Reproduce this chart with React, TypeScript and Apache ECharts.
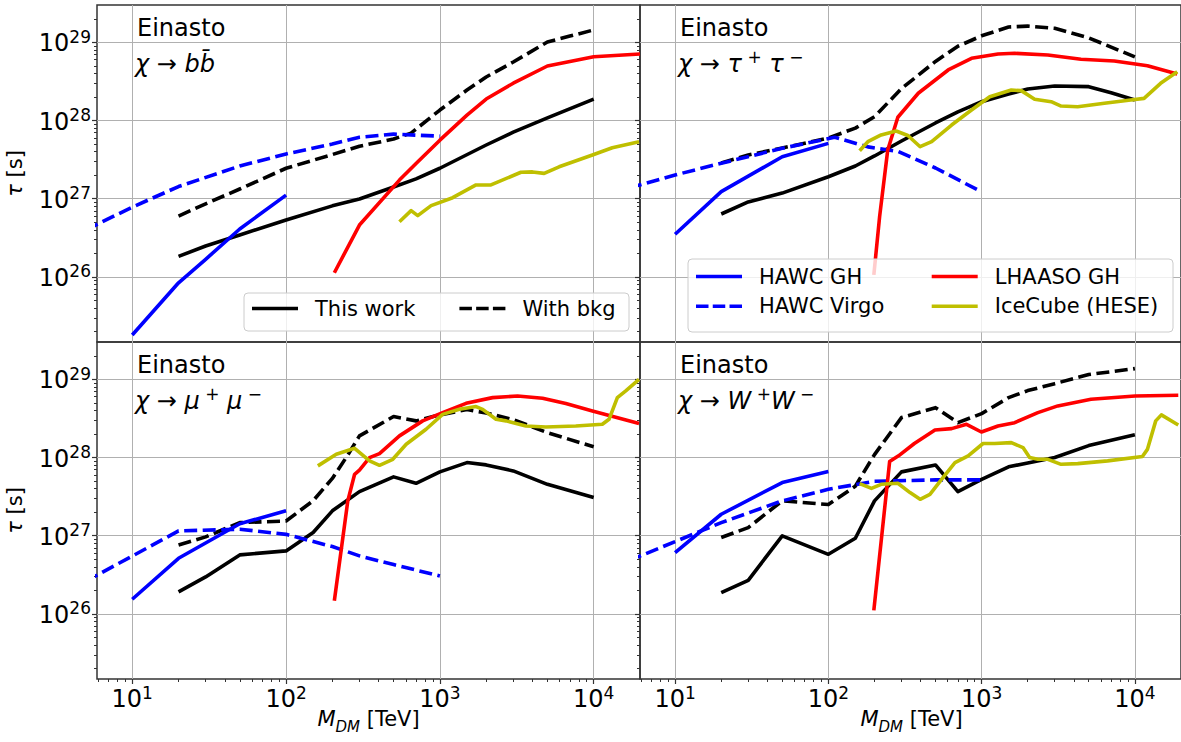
import React, { useEffect, useRef } from 'react';
import * as echarts from 'echarts';

const FONT = 'DejaVu Sans';

// Axis ranges and tick values
const X_MIN = 5.9;
const X_MAX = 20000;
const Y_MIN = 1.47e25;
const Y_MAX = 3.0e29;
const xMajor = [10, 100, 1000, 10000];
const yMajor = [1e26, 1e27, 1e28, 1e29];
const minorMult = [2, 3, 4, 5, 6, 7, 8, 9];
const xDecades = [1, 10, 100, 1000, 10000];
const yDecades = [1e25, 1e26, 1e27, 1e28, 1e29];

// Series names
const NAMES = ['This work', 'With bkg', 'HAWC GH', 'HAWC Virgo', 'LHAASO GH', 'IceCube (HESE)'];

// ---------- Panel 1: chi -> b bbar ----------
const bbThisWork = [[20, 1.83e26], [30, 2.48e26], [50, 3.44e26], [100, 5.35e26], [200, 8.1e26], [300, 9.9e26], [500, 1.41e27], [700, 1.79e27], [1000, 2.45e27], [2000, 4.86e27], [3000, 7.1e27], [5000, 1.08e28], [10000, 1.88e28]];
const bbWithBkg = [[20, 6.0e26], [30, 8.6e26], [50, 1.33e27], [100, 2.45e27], [200, 3.67e27], [300, 4.68e27], [500, 5.8e27], [650, 6.9e27], [1000, 1.36e28], [1500, 2.45e28], [2000, 3.6e28], [3000, 5.6e28], [5000, 1.01e29], [7000, 1.2e29], [10000, 1.44e29]];
const bbHawcGH = [[10, 1.81e25], [20, 8.4e25], [30, 1.68e26], [50, 4.1e26], [100, 1.11e27]];
const bbHawcVirgo = [[5, 4.0e26], [10, 7.8e26], [20, 1.43e27], [50, 2.62e27], [100, 3.73e27], [200, 5.0e27], [300, 6.1e27], [500, 6.7e27], [1000, 6.3e27]];
const bbLhaaso = [[206, 1.13e26], [300, 4.6e26], [546, 1.73e27], [700, 2.82e27], [1000, 5.6e27], [1500, 1.17e28], [2000, 1.88e28], [3000, 3.0e28], [5000, 4.98e28], [10000, 6.55e28], [20000, 7.1e28]];
const bbIceCube = [[546, 5.08e26], [650, 7.03e26], [718, 6.07e26], [877, 8.15e26], [1211, 1.03e27], [1718, 1.5e27], [2149, 1.5e27], [3365, 2.18e27], [4000, 2.2e27], [4763, 2.11e27], [5960, 2.56e27], [9810, 3.62e27], [13210, 4.49e27], [19720, 5.36e27]];

// ---------- Panel 2: chi -> tau+ tau- ----------
const ttThisWork = [[20, 6.37e26], [30, 9.1e26], [50, 1.18e27], [100, 1.91e27], [150, 2.62e27], [200, 3.52e27], [300, 5.47e27], [500, 9.3e27], [700, 1.29e28], [1000, 1.74e28], [1500, 2.18e28], [2000, 2.53e28], [3000, 2.76e28], [5000, 2.71e28], [7000, 2.27e28], [10000, 1.83e28]];
const ttWithBkg = [[20, 2.87e27], [30, 3.62e27], [50, 4.45e27], [100, 5.97e27], [150, 8.0e27], [200, 1.12e28], [300, 2.56e28], [500, 5.7e28], [700, 8.9e28], [1000, 1.21e29], [1500, 1.57e29], [2000, 1.61e29], [3000, 1.51e29], [5000, 1.14e29], [10000, 6.5e28]];
const ttHawcGH = [[10, 3.51e26], [20, 1.23e27], [50, 3.44e27], [100, 5.1e27]];
const ttHawcVirgo = [[5, 1.37e27], [10, 2.01e27], [20, 2.84e27], [50, 4.41e27], [110, 6.1e27], [181, 4.6e27], [286, 4.0e27], [500, 2.47e27], [1000, 1.22e27]];
const ttLhaaso = [[198, 1.06e26], [216, 5.9e26], [244, 4.2e27], [284, 1.1e28], [386, 2.23e28], [605, 4.43e28], [859, 6.24e28], [1279, 7.08e28], [1643, 7.23e28], [2705, 6.88e28], [4450, 6.07e28], [7340, 5.77e28], [12080, 5.02e28], [18900, 3.94e28]];
const ttIceCube = [[160, 4.11e27], [181, 5.36e27], [221, 6.53e27], [277, 7.35e27], [330, 6.43e27], [397, 4.62e27], [472, 5.36e27], [637, 8.75e27], [859, 1.36e28], [1130, 2.01e28], [1562, 2.45e28], [1814, 2.41e28], [2218, 1.87e28], [2843, 1.74e28], [3300, 1.53e28], [4235, 1.5e28], [6320, 1.66e28], [9400, 1.83e28], [11480, 1.92e28], [14720, 2.99e28], [18900, 4.21e28]];

// ---------- Panel 3: chi -> mu+ mu- ----------
const mmThisWork = [[20, 1.91e26], [30, 2.97e26], [50, 5.68e26], [100, 6.39e26], [150, 1.1e27], [200, 2.08e27], [300, 3.66e27], [500, 5.65e27], [700, 4.68e27], [1000, 6.55e27], [1500, 8.61e27], [2000, 8.04e27], [3000, 6.74e27], [5000, 4.54e27], [10000, 3.07e27]];
const mmWithBkg = [[20, 7.62e26], [30, 9.66e26], [50, 1.47e27], [100, 1.54e27], [150, 2.8e27], [200, 5.4e27], [250, 1.05e28], [300, 1.89e28], [500, 3.34e28], [700, 2.94e28], [1000, 3.51e28], [1500, 4.1e28], [2000, 3.72e28], [3000, 3.05e28], [5000, 2.08e28], [10000, 1.37e28]];
const mmHawcGH = [[10, 1.54e26], [20, 5.14e26], [50, 1.42e27], [100, 2.08e27]];
const mmHawcVirgo = [[5, 2.62e26], [20, 1.15e27], [50, 1.21e27], [100, 1.04e27], [200, 7.26e26], [300, 5.52e26], [500, 4.27e26], [1000, 3.06e26]];
const mmLhaaso = [[206, 1.47e26], [252, 2.79e27], [279, 6.1e27], [300, 6.9e27], [349, 9.97e27], [405, 1.12e28], [546, 1.89e28], [773, 2.94e28], [1042, 3.75e28], [1479, 4.93e28], [2202, 5.83e28], [3200, 6.13e28], [4650, 5.72e28], [6590, 4.89e28], [9810, 3.94e28], [19720, 2.72e28]];
const mmIceCube = [[161, 7.81e27], [212, 1.1e28], [279, 1.31e28], [349, 9.06e27], [405, 7.95e27], [494, 9.48e27], [604, 1.48e28], [813, 2.3e28], [1042, 3.56e28], [1339, 4.13e28], [1718, 4.48e28], [1897, 4.13e28], [2317, 3.08e28], [2691, 2.94e28], [3625, 2.53e28], [4887, 2.46e28], [7650, 2.53e28], [11380, 2.66e28], [12580, 3.08e28], [14250, 5.83e28], [16160, 7.11e28], [19720, 1.0e29]];

// ---------- Panel 4: chi -> W+ W- ----------
const wwThisWork = [[20, 1.87e26], [30, 2.69e26], [50, 9.94e26], [100, 5.78e26], [150, 9.27e26], [200, 2.79e27], [300, 6.55e27], [500, 8.03e27], [700, 3.66e27], [1000, 5.26e27], [1500, 7.6e27], [2000, 8.5e27], [3000, 1.0e28], [5000, 1.42e28], [10000, 1.95e28]];
const wwWithBkg = [[20, 9.5e26], [30, 1.27e27], [50, 2.79e27], [100, 2.5e27], [150, 4.3e27], [200, 1.09e28], [300, 3.24e28], [500, 4.34e28], [700, 2.79e28], [1000, 3.64e28], [1500, 5.83e28], [2000, 7.17e28], [3000, 8.8e28], [5000, 1.15e29], [10000, 1.37e29]];
const wwHawcGH = [[10, 6.08e26], [20, 1.88e27], [50, 4.78e27], [100, 6.61e27]];
const wwHawcVirgo = [[5, 4.8e26], [10, 8.4e26], [20, 1.47e27], [50, 2.79e27], [100, 3.92e27], [200, 4.97e27], [500, 5.17e27], [1000, 5.17e27]];
const wwLhaaso = [[198, 1.11e26], [251, 8.87e27], [287, 1.05e28], [364, 1.51e28], [496, 2.25e28], [637, 2.34e28], [797, 2.66e28], [997, 2.12e28], [1279, 2.53e28], [1643, 2.79e28], [2328, 3.75e28], [3140, 4.57e28], [5170, 5.55e28], [10040, 6.13e28], [19200, 6.24e28]];
const wwIceCube = [[160, 4.63e27], [191, 4.03e27], [221, 4.54e27], [284, 4.68e27], [341, 3.56e27], [397, 2.92e27], [460, 3.38e27], [548, 5.26e27], [670, 8.61e27], [817, 1.05e28], [1022, 1.51e28], [1218, 1.51e28], [1562, 1.55e28], [1862, 1.34e28], [2057, 9.97e27], [2328, 9.48e27], [2705, 9.48e27], [3300, 8.18e27], [4237, 8.36e27], [6640, 9.06e27], [11200, 1.03e28], [12070, 1.27e28], [13680, 2.94e28], [14890, 3.51e28], [19200, 2.61e28]];

const panelData = [
  [bbThisWork, bbWithBkg, bbHawcGH, bbHawcVirgo, bbLhaaso, bbIceCube],
  [ttThisWork, ttWithBkg, ttHawcGH, ttHawcVirgo, ttLhaaso, ttIceCube],
  [mmThisWork, mmWithBkg, mmHawcGH, mmHawcVirgo, mmLhaaso, mmIceCube],
  [wwThisWork, wwWithBkg, wwHawcGH, wwHawcVirgo, wwLhaaso, wwIceCube],
];

const DASH = [13, 5.5];
const SERIES_STYLE = [
  { color: '#000000', dash: 'solid' },
  { color: '#000000', dash: DASH },
  { color: '#0000ff', dash: 'solid' },
  { color: '#0000ff', dash: DASH },
  { color: '#ff0000', dash: 'solid' },
  { color: '#bfbf00', dash: 'solid' },
];
const LW = 3.6;
const ICON_SOLID = 'path://M0 0H46V3.6H0Z';
const ICON_DASH = 'path://M0 0H12.5V3.6H0Z M16.75 0H29.25V3.6H16.75Z M33.5 0H46V3.6H33.5Z';

const GRIDS = [
  { left: 97, top: 5, width: 543, height: 337 },
  { left: 640, top: 5, width: 543, height: 337 },
  { left: 97, top: 342, width: 543, height: 337 },
  { left: 640, top: 342, width: 543, height: 337 },
];

const SPINE = '#333333';
const GRIDLINE = '#b0b0b0';

const powRich = {
  b: { fontSize: 24, fontFamily: FONT, color: '#000', verticalAlign: 'bottom', lineHeight: 26 },
  s: { fontSize: 17, fontFamily: FONT, color: '#000', verticalAlign: 'bottom', lineHeight: 17, padding: [0, 0, 10, 0] },
};
const powFmt = (v: number) => `{b|10}{s|${Math.round(Math.log10(v))}}`;

const mathRich = {
  i: { fontSize: 24, fontFamily: FONT, fontStyle: 'italic', color: '#000', verticalAlign: 'bottom', lineHeight: 26 },
  n: { fontSize: 24, fontFamily: FONT, color: '#000', verticalAlign: 'bottom', lineHeight: 26 },
  sup: { fontSize: 17, fontFamily: FONT, color: '#000', verticalAlign: 'bottom', lineHeight: 17, padding: [0, 0, 11, 0] },
};
const labelRich = {
  i: { fontSize: 21, fontFamily: FONT, fontStyle: 'italic', color: '#000', verticalAlign: 'bottom', lineHeight: 23, padding: [0, 0, 5, 0] },
  n: { fontSize: 21, fontFamily: FONT, color: '#000', verticalAlign: 'bottom', lineHeight: 23, padding: [0, 0, 5, 0] },
  sub: { fontSize: 15, fontFamily: FONT, fontStyle: 'italic', color: '#000', verticalAlign: 'bottom', lineHeight: 17 },
};

const PANEL_MATH = [
  '{i|χ}{n| → }{i|bb\u0304}',
  '{i|χ}{n| → }{i|τ}{sup| +}{i| τ}{sup| −}',
  '{i|χ}{n| → }{i|μ}{sup| +}{i| μ}{sup| −}',
  '{i|χ}{n| → }{i|W}{sup| +}{i|W}{sup| −}',
];

export default function App() {
  const ref = useRef<HTMLDivElement>(null);
  useEffect(() => {
    if (!ref.current) return;
    const chart = echarts.init(ref.current, undefined, { renderer: 'svg' });

    const xMinor: number[] = [];
    xDecades.forEach((d) => minorMult.forEach((k) => { const v = k * d; if (v > X_MIN && v < X_MAX) xMinor.push(v); }));
    const yMinor: number[] = [];
    yDecades.forEach((d) => minorMult.forEach((k) => { const v = k * d; if (v > Y_MIN && v < Y_MAX) yMinor.push(v); }));

    const xAxis: any[] = [];
    const yAxis: any[] = [];
    GRIDS.forEach((_, g) => {
      const bottomRow = g >= 2;
      const leftCol = g % 2 === 0;
      xAxis.push({
        type: 'log', logBase: 10, gridIndex: g, min: X_MIN, max: X_MAX, position: 'bottom',
        axisLine: { show: false },
        axisTick: { show: bottomRow, length: 5, inside: false, customValues: xMajor, lineStyle: { color: SPINE, width: 1.2 } },
        axisLabel: { show: bottomRow, customValues: xMajor, formatter: powFmt, rich: powRich, margin: 6 },
        splitLine: { show: true, lineStyle: { color: GRIDLINE, width: 1 } },
        minorTick: { show: false }, minorSplitLine: { show: false },
      });
      yAxis.push({
        type: 'log', logBase: 10, gridIndex: g, min: Y_MIN, max: Y_MAX, position: 'left',
        axisLine: { show: false },
        axisTick: { show: true, length: 5, inside: false, customValues: yMajor, lineStyle: { color: SPINE, width: 1.2 } },
        axisLabel: { show: leftCol, customValues: yMajor, formatter: powFmt, rich: powRich, margin: 6 },
        splitLine: { show: true, lineStyle: { color: GRIDLINE, width: 1 } },
        minorTick: { show: false }, minorSplitLine: { show: false },
      });
    });
    GRIDS.forEach((_, g) => {
      const bottomRow = g >= 2;
      xAxis.push({
        type: 'log', logBase: 10, gridIndex: g, min: X_MIN, max: X_MAX, position: 'bottom',
        axisLine: { show: false },
        axisTick: { show: bottomRow, length: 3, customValues: xMinor, lineStyle: { color: SPINE, width: 1 } },
        axisLabel: { show: false }, splitLine: { show: false },
      });
      yAxis.push({
        type: 'log', logBase: 10, gridIndex: g, min: Y_MIN, max: Y_MAX, position: 'left',
        axisLine: { show: false },
        axisTick: { show: true, length: 3, customValues: yMinor, lineStyle: { color: SPINE, width: 1 } },
        axisLabel: { show: false }, splitLine: { show: false },
      });
    });

    const series: any[] = [];
    panelData.forEach((list, g) => {
      list.forEach((data, s) => {
        const st = SERIES_STYLE[s];
        series.push({
          type: 'line', name: NAMES[s], xAxisIndex: g, yAxisIndex: g, data,
          symbol: 'none', showSymbol: false, clip: true, z: 2 + s * 0.01,
          lineStyle: { color: st.color, width: LW, type: st.dash, cap: 'butt', join: 'round' },
          itemStyle: { color: st.color },
        });
      });
    });

    const legendText = {
      fontSize: 21, fontFamily: FONT, color: '#000',
      rich: { t: { fontSize: 21, fontFamily: FONT, color: '#000', padding: [0, 0, 0, 12], lineHeight: 24 } },
    };
    const legendBase = {
      selectedMode: false, padding: 0, itemWidth: 46, itemHeight: 3.6, textStyle: legendText, z: 10,
      backgroundColor: 'transparent', formatter: (name: string) => `{t|${name}}`,
    };
    const item = (name: string) => ({ name, icon: NAMES.indexOf(name) % 2 === 1 && name !== 'LHAASO GH' ? ICON_DASH : ICON_SOLID });
    const legItem = (name: string, dashed: boolean) => ({ name, icon: dashed ? ICON_DASH : ICON_SOLID });

    const graphics: any[] = [
      { type: 'rect', z: 8, shape: { x: 244, y: 293, width: 385, height: 38, r: 4 }, style: { fill: 'rgba(255,255,255,0.8)', stroke: '#cccccc', lineWidth: 1 } },
      { type: 'rect', z: 8, shape: { x: 688, y: 259, width: 485, height: 73, r: 4 }, style: { fill: 'rgba(255,255,255,0.8)', stroke: '#cccccc', lineWidth: 1 } },
    ];
    GRIDS.forEach((gr, g) => {
      graphics.push({ type: 'text', z: 9, x: gr.left + 40, y: gr.top + 23, style: { text: 'Einasto', fontSize: 24, fontFamily: FONT, fill: '#000', verticalAlign: 'middle' } });
      graphics.push({ type: 'text', z: 9, x: gr.left + 38, y: gr.top + 58, style: { text: PANEL_MATH[g], rich: mathRich, verticalAlign: 'middle' } });
    });
    // axis labels
    graphics.push({ type: 'text', x: 19, y: 173.5, rotation: Math.PI / 2, style: { text: '{i|τ}{n| [s]}', rich: labelRich, align: 'center', verticalAlign: 'middle' } });
    graphics.push({ type: 'text', x: 19, y: 510.5, rotation: Math.PI / 2, style: { text: '{i|τ}{n| [s]}', rich: labelRich, align: 'center', verticalAlign: 'middle' } });
    graphics.push({ type: 'text', x: 368.5, y: 723, style: { text: '{i|M}{sub|DM}{n| [TeV]}', rich: labelRich, align: 'center', verticalAlign: 'middle' } });
    graphics.push({ type: 'text', x: 911.5, y: 723, style: { text: '{i|M}{sub|DM}{n| [TeV]}', rich: labelRich, align: 'center', verticalAlign: 'middle' } });

    chart.setOption({
      animation: false,
      backgroundColor: '#ffffff',
      grid: GRIDS.map((g) => ({ ...g, show: true, borderColor: SPINE, borderWidth: 1.5, backgroundColor: 'transparent', containLabel: false })),
      xAxis,
      yAxis,
      series,
      legend: [
        { ...legendBase, data: [legItem('This work', false), legItem('With bkg', true)], orient: 'horizontal', left: 252, top: 298, itemGap: 44 },
        { ...legendBase, data: [legItem('HAWC GH', false), legItem('HAWC Virgo', true)], orient: 'vertical', left: 696, top: 266, itemGap: 8.7 },
        { ...legendBase, data: [legItem('LHAASO GH', false), legItem('IceCube (HESE)', false)], orient: 'vertical', left: 931.7, top: 266, itemGap: 8.7 },
      ],
      graphic: { elements: graphics },
    });
    void item;
    return () => chart.dispose();
  }, []);
  return <div ref={ref} style={{ position: 'fixed', left: 0, top: 0, width: 1181, height: 742, background: '#fff' }} />;
}
